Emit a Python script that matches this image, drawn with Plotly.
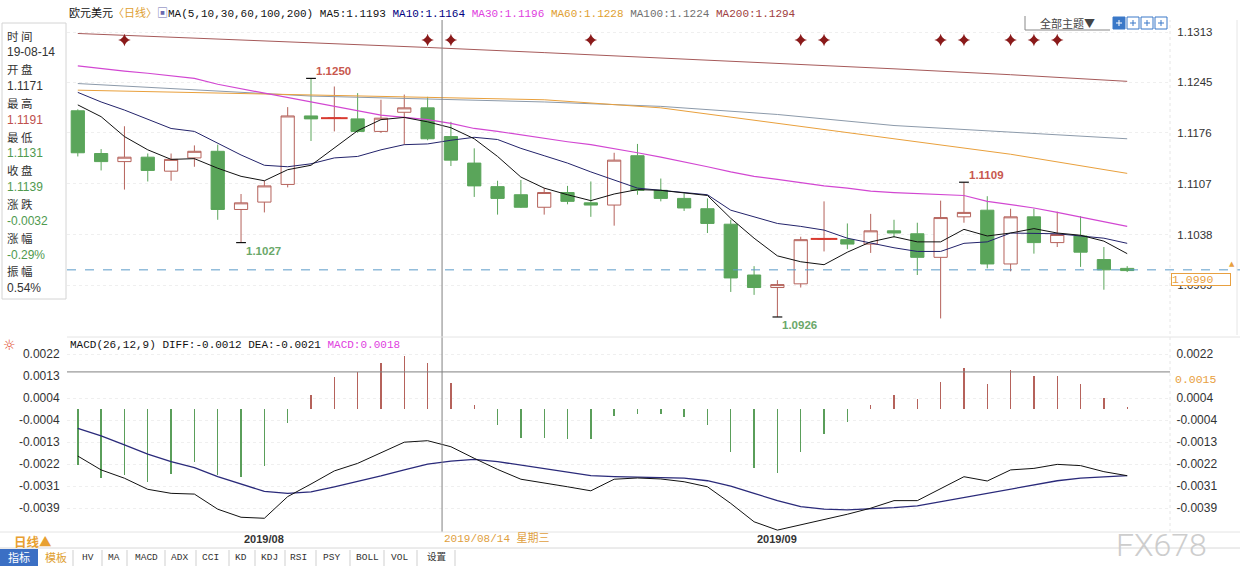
import plotly.graph_objects as go

# ---------------- data ----------------
dates = ["2019-07-23", "2019-07-24", "2019-07-25", "2019-07-26", "2019-07-29", "2019-07-30",
         "2019-07-31", "2019-08-01", "2019-08-02", "2019-08-05", "2019-08-06", "2019-08-07",
         "2019-08-08", "2019-08-09", "2019-08-12", "2019-08-13", "2019-08-14", "2019-08-15",
         "2019-08-16", "2019-08-19", "2019-08-20", "2019-08-21", "2019-08-22", "2019-08-23",
         "2019-08-26", "2019-08-27", "2019-08-28", "2019-08-29", "2019-08-30", "2019-09-02",
         "2019-09-03", "2019-09-04", "2019-09-05", "2019-09-06", "2019-09-09", "2019-09-10",
         "2019-09-11", "2019-09-12", "2019-09-13", "2019-09-16", "2019-09-17", "2019-09-18",
         "2019-09-19", "2019-09-20", "2019-09-23", "2019-09-24"]

opens = [1.1206, 1.1148, 1.1137, 1.1143, 1.1124, 1.1142, 1.1151, 1.1072, 1.1082, 1.1106,
         1.1199, 1.1196, 1.1195, 1.1178, 1.1204, 1.1210, 1.1171, 1.1135, 1.1103, 1.1092,
         1.1075, 1.1095, 1.1081, 1.1078, 1.1145, 1.1098, 1.1087, 1.1073, 1.1052, 1.0983,
         1.0966, 1.0971, 1.1032, 1.1031, 1.1025, 1.1043, 1.1039, 1.1007, 1.1062, 1.1071,
         1.0998, 1.1062, 1.1027, 1.1036, 1.1004, 1.0992]
highs = [1.1208, 1.1154, 1.1185, 1.1148, 1.1148, 1.1159, 1.1160, 1.1093, 1.1111, 1.1211,
         1.1250, 1.1239, 1.1230, 1.1221, 1.1228, 1.1225, 1.1191, 1.1155, 1.1111, 1.1112,
         1.1101, 1.1104, 1.1110, 1.1149, 1.1161, 1.1114, 1.1094, 1.1087, 1.1058, 1.0995,
         1.0976, 1.1035, 1.1083, 1.1053, 1.1066, 1.1058, 1.1054, 1.1084, 1.1109, 1.1090,
         1.1073, 1.1073, 1.1069, 1.1063, 1.1021, 1.0995]
lows = [1.1144, 1.1125, 1.1099, 1.1110, 1.1111, 1.1130, 1.1058, 1.1027, 1.1068, 1.1102,
        1.1165, 1.1178, 1.1176, 1.1176, 1.1160, 1.1166, 1.1131, 1.1089, 1.1065, 1.1074,
        1.1065, 1.1079, 1.1062, 1.1050, 1.1092, 1.1083, 1.1070, 1.1040, 1.0960, 1.0956,
        1.0926, 1.0966, 1.1015, 1.1018, 1.1013, 1.1034, 1.0983, 1.0924, 1.1054, 1.0992,
        1.0988, 1.1012, 1.1021, 1.0994, 1.0963, 1.0987]
closes = [1.1149, 1.1137, 1.1143, 1.1125, 1.1140, 1.1151, 1.1072, 1.1081, 1.1104, 1.1199,
          1.1195, 1.1196, 1.1178, 1.1196, 1.1210, 1.1168, 1.1139, 1.1104, 1.1087, 1.1075,
          1.1095, 1.1083, 1.1078, 1.1139, 1.1098, 1.1087, 1.1074, 1.1053, 1.0979, 1.0966,
          1.0970, 1.1031, 1.1032, 1.1025, 1.1043, 1.1040, 1.1007, 1.1061, 1.1068, 1.0998,
          1.1062, 1.1027, 1.1038, 1.1014, 1.0990, 1.0989]

ma5 = [1.1214, 1.1198, 1.1171, 1.1153, 1.1140, 1.1141, 1.1128, 1.1117, 1.1111, 1.1126,
       1.1132, 1.1156, 1.1179, 1.1194, 1.1197, 1.1191, 1.1183, 1.1168, 1.1144, 1.1116,
       1.1101, 1.1092, 1.1084, 1.1093, 1.1099, 1.1098, 1.1095, 1.1091, 1.1060, 1.1033,
       1.1009, 1.1001, 1.0997, 1.1014, 1.1028, 1.1035, 1.1028, 1.1028, 1.1045, 1.1036,
       1.1040, 1.1046, 1.1040, 1.1037, 1.1029, 1.1012]
ma10 = [1.1231, 1.1218, 1.1207, 1.1194, 1.1182, 1.1178, 1.1162, 1.1146, 1.1132, 1.1130,
        1.1134, 1.1142, 1.1144, 1.1153, 1.1160, 1.1161, 1.1166, 1.1170, 1.1167, 1.1155,
        1.1145, 1.1135, 1.1123, 1.1112, 1.1101, 1.1098, 1.1095, 1.1092, 1.1071, 1.1062,
        1.1053, 1.1049, 1.1044, 1.1033, 1.1026, 1.1020, 1.1015, 1.1015, 1.1026, 1.1028,
        1.1040, 1.1040, 1.1039, 1.1036, 1.1033, 1.1026]
ma30 = [1.1267, 1.1263, 1.1260, 1.1257, 1.1253, 1.1250, 1.1242, 1.1236, 1.1230, 1.1223,
        1.1218, 1.1212, 1.1205, 1.1200, 1.1197, 1.1194, 1.1189, 1.1182, 1.1178, 1.1173,
        1.1169, 1.1164, 1.1160, 1.1155, 1.1149, 1.1143, 1.1137, 1.1130, 1.1123, 1.1117,
        1.1113, 1.1108, 1.1104, 1.1101, 1.1097, 1.1095, 1.1094, 1.1093, 1.1091, 1.1083,
        1.1079, 1.1074, 1.1068, 1.1062, 1.1056, 1.1049]
ma_long_idx = [0, 5, 10, 15, 20, 25, 30, 35, 40, 45]
ma60 = [1.1234, 1.1231, 1.1227, 1.1225, 1.1221, 1.1210, 1.1189, 1.1169, 1.1147, 1.1121]
ma100 = [1.1243, 1.1234, 1.1226, 1.1222, 1.1218, 1.1212, 1.1201, 1.1186, 1.1177, 1.1168]
ma200 = [1.1311, 1.1305, 1.1298, 1.1292, 1.1285, 1.1278, 1.1271, 1.1263, 1.1255, 1.1246]

macd_hist = [-0.00222, -0.00274, -0.00261, -0.00288, -0.00257, -0.00208, -0.00261, -0.00268,
             -0.00225, -0.00056, 0.00056, 0.00129, 0.00149, 0.00182, 0.00211, 0.00182,
             0.00105, 0.00017, -0.00063, -0.00116, -0.00116, -0.00119, -0.00119, -0.00027,
             -0.00019, -0.00019, -0.00032, -0.00063, -0.00169, -0.00235, -0.00252, -0.00169,
             -0.00098, -0.00050, 0.00017, 0.00056, 0.00040, 0.00109, 0.00162, 0.00100,
             0.00156, 0.00132, 0.00132, 0.00099, 0.00046, 0.00010]
diff = [-0.00186, -0.00241, -0.00274, -0.00318, -0.00334, -0.00337, -0.00397, -0.00429,
        -0.00433, -0.00347, -0.00297, -0.00245, -0.00215, -0.00173, -0.00131, -0.00125,
        -0.00149, -0.00195, -0.00239, -0.00278, -0.00292, -0.00308, -0.00324, -0.00278,
        -0.00273, -0.00277, -0.00288, -0.00308, -0.00374, -0.00447, -0.00480, -0.00460,
        -0.00440, -0.00417, -0.00393, -0.00363, -0.00363, -0.00314, -0.00268, -0.00285,
        -0.00241, -0.00235, -0.00219, -0.00224, -0.00248, -0.00264]
dea = [-0.00076, -0.00106, -0.00142, -0.00178, -0.00208, -0.00232, -0.00268, -0.00297,
       -0.00326, -0.00334, -0.00328, -0.00308, -0.00288, -0.00265, -0.00241, -0.00218,
       -0.00206, -0.00199, -0.00208, -0.00222, -0.00235, -0.00248, -0.00264, -0.00268,
       -0.00270, -0.00272, -0.00274, -0.00284, -0.00305, -0.00334, -0.00363, -0.00387,
       -0.00397, -0.00400, -0.00396, -0.00391, -0.00384, -0.00367, -0.00350, -0.00334,
       -0.00317, -0.00301, -0.00284, -0.00274, -0.00268, -0.00264]

event_idx = [2, 15, 16, 22, 31, 32, 37, 38, 40, 41, 42]
high_mark_idx = [10, 38]
low_mark_idx = [7, 30]
current_price = 1.0990
cursor_date = "2019-08-14"
cursor_macd = 0.00148

price_ticks = [1.1313, 1.1245, 1.1176, 1.1107, 1.1038, 1.0969]
macd_ticks = [0.00218, 0.00131, 0.000436, -0.000436, -0.00131, -0.00218, -0.00306, -0.00393]
macd_tick_text = ["0.0022", "0.0013", "0.0004", "-0.0004", "-0.0013", "-0.0022", "-0.0031", "-0.0039"]
month_labels = ["2019/08", "2019/09"]

header_ma = [("MA5", "1.1193", "#111111"), ("MA10", "1.1164", "#000080"),
             ("MA30", "1.1196", "#e040e0"), ("MA60", "1.1228", "#e0a030"),
             ("MA100", "1.1224", "#707070"), ("MA200", "1.1294", "#a04040")]
macd_header = [("MACD(26,12,9) ", "#111111"), ("DIFF:-0.0012 ", "#111111"),
               ("DEA:-0.0021 ", "#111111"), ("MACD:0.0018", "#e040e0")]
info_labels = ["时 间", "开 盘", "最 高", "最 低", "收 盘", "涨 跌", "涨 幅", "振 幅"]
info_values = ["19-08-14", "1.1171", "1.1191", "1.1131", "1.1139", "-0.0032", "-0.29%", "0.54%"]
info_colors = ["#333333", "#333333", "#c0504d", "#4f9a4f", "#4f9a4f", "#4f9a4f", "#4f9a4f", "#333333"]
toolbar_items = ["HV", "MA", "MACD", "ADX", "CCI", "KD", "KDJ", "RSI", "PSY", "BOLL", "VOL", "设置"]

# ---------------- geometry ----------------
W, H = 1240, 581
L, R, T, B = 67, 70, 20, 49
PW, PH = W - L - R, H - T - B


def PX(x):
    return (x - L) / PW


def PY(y):
    return (H - B - y) / PH


X0_PX, DX_PX = 77.8, 23.32
x_range = [(L - X0_PX) / DX_PX, (W - R - X0_PX) / DX_PX]


def price_at(ypx):
    return 1.1313 - (ypx - 32) * 0.0001358


def macd_at(ypx):
    return (409.2 - ypx) * 0.0000397


y_range = [price_at(336), price_at(20)]
y2_range = [macd_at(532), macd_at(338)]

UP, DN = "#b5625b", "#5aa55a"
MONO = "Liberation Mono, Noto Sans CJK SC, monospace"
SANS = "Liberation Sans, Arial, Noto Sans CJK SC, sans-serif"
CJK = "Noto Sans CJK SC, Liberation Sans, sans-serif"

idx = list(range(len(dates)))
fig = go.Figure()

fig.add_trace(go.Candlestick(
    x=idx, open=opens, high=highs, low=lows, close=closes,
    increasing=dict(line=dict(color=UP, width=1), fillcolor="white"),
    decreasing=dict(line=dict(color=DN, width=1), fillcolor=DN),
    whiskerwidth=0, hoverinfo="skip", xaxis="x", yaxis="y"))

doji = [i for i in idx if abs(opens[i] - closes[i]) < 1e-9]
fig.add_trace(go.Scatter(
    x=doji, y=[closes[i] for i in doji], mode="markers",
    marker=dict(symbol="line-ew", size=19, line=dict(color="#d93a30", width=2)),
    hoverinfo="skip", xaxis="x", yaxis="y"))

for xs, ys, col, wd in [(ma_long_idx, ma200, "#a65a5a", 1), (ma_long_idx, ma100, "#8c9aaa", 1),
                        (ma_long_idx, ma60, "#e9a03c", 1), (idx, ma30, "#d247d2", 1.2),
                        (idx, ma10, "#23236b", 1), (idx, ma5, "#111111", 1)]:
    fig.add_trace(go.Scatter(x=xs, y=ys, mode="lines", line=dict(color=col, width=wd),
                             hoverinfo="skip", xaxis="x", yaxis="y"))

fig.add_trace(go.Scatter(
    x=event_idx, y=[price_at(40)] * len(event_idx), mode="markers",
    marker=dict(symbol="star-diamond", size=9, color="#8a1a1a"),
    hoverinfo="skip", xaxis="x", yaxis="y"))

fig.add_trace(go.Scatter(
    x=high_mark_idx + low_mark_idx,
    y=[highs[i] for i in high_mark_idx] + [lows[i] for i in low_mark_idx],
    mode="markers", marker=dict(symbol="line-ew", size=7, line=dict(color="#111111", width=1.2)),
    hoverinfo="skip", xaxis="x", yaxis="y"))

# MACD
fig.add_trace(go.Bar(
    x=idx, y=macd_hist, width=0.06,
    marker=dict(color=[UP if v >= 0 else "#5a9e5a" for v in macd_hist], line=dict(width=0)),
    hoverinfo="skip", xaxis="x2", yaxis="y2"))
fig.add_trace(go.Scatter(x=idx, y=dea, mode="lines", line=dict(color="#2a2a7a", width=1.3),
                         hoverinfo="skip", xaxis="x2", yaxis="y2"))
fig.add_trace(go.Scatter(x=idx, y=diff, mode="lines", line=dict(color="#111111", width=1),
                         hoverinfo="skip", xaxis="x2", yaxis="y2"))
fig.add_trace(go.Scatter(x=[0], y=[0], mode="markers", marker=dict(opacity=0),
                         hoverinfo="skip", xaxis="x2", yaxis="y3"))

# ---------------- shapes ----------------
shapes = []
cur_x = dates.index(cursor_date) - 0.38
shapes.append(dict(type="line", xref="x", yref="paper", x0=cur_x, x1=cur_x, y0=0, y1=1,
                   line=dict(color="#808080", width=1)))
shapes.append(dict(type="line", xref="paper", yref="y2", x0=0, x1=1, y0=cursor_macd, y1=cursor_macd,
                   line=dict(color="#808080", width=1)))
shapes.append(dict(type="line", xref="paper", yref="y", x0=0, x1=PX(W), y0=current_price, y1=current_price,
                   line=dict(color="#5b9bc8", width=1, dash="dash")))
shapes.append(dict(type="line", xref="paper", yref="paper", x0=0, x1=PX(W), y0=PY(337), y1=PY(337),
                   line=dict(color="#e4e4e4", width=1)))
shapes.append(dict(type="line", xref="paper", yref="paper", x0=PX(0), x1=PX(W), y0=PY(532), y1=PY(532),
                   line=dict(color="#e4e4e4", width=1)))
shapes.append(dict(type="line", xref="paper", yref="paper", x0=1.0, x1=1.0, y0=0, y1=1,
                   line=dict(color="#e6e6e6", width=1, dash="dot")))
shapes.append(dict(type="line", xref="paper", yref="paper", x0=PX(1237), x1=PX(1237), y0=PY(335), y1=PY(20),
                   line=dict(color="#e6e6e6", width=1)))
# info box
shapes.append(dict(type="rect", xref="paper", yref="paper", x0=PX(2), x1=PX(66), y0=PY(299), y1=PY(23),
                   line=dict(color="#d4d4d4", width=1), fillcolor="white", layer="below"))
# theme button
shapes.append(dict(type="line", xref="paper", yref="paper", x0=PX(1025), x1=PX(1110), y0=PY(30), y1=PY(30),
                   line=dict(color="#888888", width=1)))
shapes.append(dict(type="line", xref="paper", yref="paper", x0=PX(1025), x1=PX(1025), y0=PY(30), y1=PY(16),
                   line=dict(color="#888888", width=1)))
for k, bx in enumerate([1113, 1127, 1141, 1155]):
    shapes.append(dict(type="rect", xref="paper", yref="paper", x0=PX(bx), x1=PX(bx + 12),
                       y0=PY(29), y1=PY(17), line=dict(color="#3a78c8", width=1),
                       fillcolor="#3a78c8" if k == 0 else "white"))
    shapes.append(dict(type="line", xref="paper", yref="paper", x0=PX(bx + 3), x1=PX(bx + 9),
                       y0=PY(23), y1=PY(23), line=dict(color="white" if k == 0 else "#3a78c8", width=1)))
    shapes.append(dict(type="line", xref="paper", yref="paper", x0=PX(bx + 6), x1=PX(bx + 6),
                       y0=PY(26), y1=PY(20), line=dict(color="white" if k == 0 else "#3a78c8", width=1)))
# toolbar
shapes.append(dict(type="line", xref="paper", yref="paper", x0=PX(0), x1=PX(W), y0=PY(548), y1=PY(548),
                   line=dict(color="#d8d8d8", width=1)))
shapes.append(dict(type="rect", xref="paper", yref="paper", x0=PX(0), x1=PX(38), y0=PY(566), y1=PY(549),
                   line=dict(width=0), fillcolor="#3b6fc4"))
tool_x = [88, 114, 146, 179, 210, 241, 269, 298, 331, 367, 399, 436]
tool_sep = [73, 102, 127, 165, 196, 229, 255, 285, 316, 350, 384, 417, 455]
for sx in tool_sep:
    shapes.append(dict(type="line", xref="paper", yref="paper", x0=PX(sx), x1=PX(sx), y0=PY(566), y1=PY(550),
                       line=dict(color="#cfcfcf", width=1)))

# ---------------- annotations ----------------
ann = []
head = ("欧元美元<span style='color:#e0a030'>〈日线〉</span><span style='color:#6a6ab0'>▣</span>"
        "MA(5,10,30,60,100,200) " +
        " ".join("<span style='color:%s'>%s:%s</span>" % (c, n, v) for n, v, c in header_ma))
ann.append(dict(x=PX(67), y=PY(13), xref="paper", yref="paper", xanchor="left", yanchor="middle",
                text=head, showarrow=False, font=dict(family=MONO, size=11, color="#111111")))
ann.append(dict(x=PX(68), y=PY(345), xref="paper", yref="paper", xanchor="left", yanchor="middle",
                text="".join("<span style='color:%s'>%s</span>" % (c, t) for t, c in macd_header),
                showarrow=False, font=dict(family=MONO, size=11, color="#111111")))
ann.append(dict(x=PX(10), y=PY(345), xref="paper", yref="paper", xanchor="center", yanchor="middle",
                text="☼", showarrow=False, font=dict(family="DejaVu Sans", size=14, color="#e04828")))
ann.append(dict(x=PX(1067), y=PY(23), xref="paper", yref="paper", xanchor="center", yanchor="middle",
                text="全部主题▼", showarrow=False, font=dict(family=CJK, size=11, color="#444444")))

for k, (lab, val, col) in enumerate(zip(info_labels, info_values, info_colors)):
    y1 = 35.5 + 2 * k * 16.85
    ann.append(dict(x=PX(5), y=PY(y1), xref="paper", yref="paper", xanchor="left", yanchor="middle",
                    text=lab, showarrow=False, font=dict(family=CJK, size=11.5, color="#333333")))
    ann.append(dict(x=PX(5), y=PY(y1 + 16.85), xref="paper", yref="paper", xanchor="left", yanchor="middle",
                    text=val, showarrow=False, font=dict(family=SANS, size=12, color=col)))

for i in high_mark_idx:
    ann.append(dict(x=i, y=highs[i], xref="x", yref="y", xanchor="left", yanchor="middle",
                    xshift=3, yshift=7, text="%.4f" % highs[i], showarrow=False,
                    font=dict(family=SANS, size=11.5, color="#c8584e", weight="bold")))
for i in low_mark_idx:
    ann.append(dict(x=i, y=lows[i], xref="x", yref="y", xanchor="left", yanchor="middle",
                    xshift=3, yshift=-8, text="%.4f" % lows[i], showarrow=False,
                    font=dict(family=SANS, size=11.5, color="#6aa86a", weight="bold")))

ann.append(dict(x=PX(1171), y=current_price, xref="paper", yref="y", xanchor="left", yanchor="top",
                yshift=-3, width=58, height=11, align="left", text="%.4f" % current_price, showarrow=False,
                bgcolor="white", bordercolor="#e8a040", borderwidth=1, borderpad=0,
                font=dict(family=MONO, size=11.5, color="#e8a040")))
ann.append(dict(x=PX(1232), y=current_price, xref="paper", yref="y", xanchor="center", yanchor="bottom",
                text="▲", showarrow=False, font=dict(family="DejaVu Sans", size=7, color="#e8a040")))
ann.append(dict(x=PX(1173), y=cursor_macd, xref="paper", yref="y2", xanchor="left", yanchor="top",
                yshift=1, text="%.4f" % cursor_macd, showarrow=False,
                font=dict(family=MONO, size=11.5, color="#e8a040")))

for lab in month_labels:
    mi = next(i for i, d in enumerate(dates) if d[:7].replace("-", "/") == lab)
    ann.append(dict(x=mi, y=PY(539), xref="x", yref="paper", xanchor="left", yanchor="middle",
                    xshift=1, text=lab, showarrow=False,
                    font=dict(family=SANS, size=11, color="#333333", weight="bold")))
ann.append(dict(x=cur_x, y=PY(538), xref="x", yref="paper", xanchor="left", yanchor="middle",
                text="2019/08/14 星期三", showarrow=False, font=dict(family=MONO, size=11, color="#e0a040")))
ann.append(dict(x=PX(12), y=PY(541), xref="paper", yref="paper", xanchor="left", yanchor="middle",
                text="日线▲", showarrow=False, font=dict(family=CJK, size=12.5, color="#e8a030", weight="bold")))
ann.append(dict(x=PX(19), y=PY(557), xref="paper", yref="paper", xanchor="center", yanchor="middle",
                text="指标", showarrow=False, font=dict(family=CJK, size=11, color="white")))
ann.append(dict(x=PX(56), y=PY(557), xref="paper", yref="paper", xanchor="center", yanchor="middle",
                text="模板", showarrow=False, font=dict(family=CJK, size=11, color="#e0a030")))
for t, tx in zip(toolbar_items, tool_x):
    ann.append(dict(x=PX(tx), y=PY(557), xref="paper", yref="paper", xanchor="center", yanchor="middle",
                    text=t, showarrow=False, font=dict(family=MONO, size=9.5, color="#333333")))
ann.append(dict(x=PX(1161), y=PY(545), xref="paper", yref="paper", xanchor="center", yanchor="middle",
                text="FX678", showarrow=False, font=dict(family="Roboto", size=32, color="#cdcdcd", weight=300)))

# ---------------- layout ----------------
axfont = dict(family=SANS, size=11.5, color="#333333")
fig.update_layout(
    width=W, height=H, margin=dict(l=L, r=R, t=T, b=B),
    paper_bgcolor="white", plot_bgcolor="white", showlegend=False, hovermode=False,
    boxgap=0.19, bargap=0,
    xaxis=dict(domain=[0, 1], range=x_range, anchor="y", showticklabels=False, showgrid=False,
               zeroline=False, rangeslider=dict(visible=False), fixedrange=True),
    xaxis2=dict(domain=[0, 1], range=x_range, anchor="y2", matches="x", showticklabels=False,
                showgrid=False, zeroline=False),
    yaxis=dict(domain=[PY(336), PY(20)], range=y_range, anchor="x", side="right",
               tickvals=price_ticks, ticktext=["%.4f" % v for v in price_ticks],
               ticks="outside", ticklen=4, tickcolor="rgba(0,0,0,0)", tickfont=axfont,
               showgrid=True, gridcolor="#efefef", griddash="dot", zeroline=False),
    yaxis2=dict(domain=[0, PY(338)], range=y2_range, anchor="x2", side="right",
                tickvals=[v for v, t in zip(macd_ticks, macd_tick_text) if t != "0.0013"],
                ticktext=[t for t in macd_tick_text if t != "0.0013"],
                ticks="outside", ticklen=3, tickcolor="rgba(0,0,0,0)",
                tickfont=dict(family=SANS, size=12, color="#333333"),
                showgrid=True, gridcolor="#efefef", griddash="dot", zeroline=False),
    yaxis3=dict(range=y2_range, overlaying="y2", anchor="x2", side="left",
                tickvals=macd_ticks, ticktext=macd_tick_text,
                ticks="outside", ticklen=4, tickcolor="rgba(0,0,0,0)",
                tickfont=dict(family=SANS, size=12, color="#333333"),
                showgrid=False, zeroline=False),
    shapes=shapes, annotations=ann,
)

fig.write_html("out.html", config={"displayModeBar": False, "staticPlot": True},
               post_script="document.body.style.margin='0';document.body.style.padding='0';")
